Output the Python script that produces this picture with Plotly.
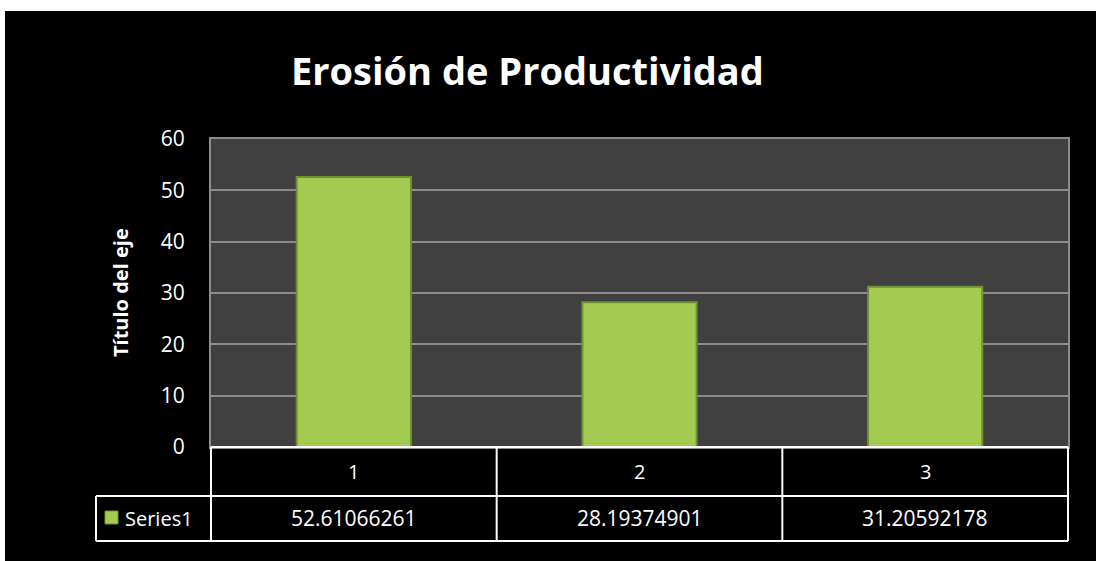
import plotly.graph_objects as go

categories = ["1", "2", "3"]
values = [52.61066261, 28.19374901, 31.20592178]
value_labels = ["52.61066261", "28.19374901", "31.20592178"]
series_name = "Series1"
title_text = "Erosión de Productividad"
y_title = "Título del eje"

FW, FH = 1096, 561
PL, PR, PT, PB = 211, 1068, 139, 447
W, H = PR - PL, PB - PT

def px(x):
    return (x - PL) / W

def py(y):
    return (PB - y) / H

FONT = "Open Sans"
GREEN = "#A3CB52"
EDGE = "#6F9130"

fig = go.Figure()
fig.add_trace(go.Bar(
    x=categories, y=values, name=series_name,
    marker=dict(color=GREEN, line=dict(color=EDGE, width=2)),
    showlegend=False,
))

shapes = []
# white outer strips (top and left)
shapes.append(dict(type="rect", xref="paper", yref="paper", x0=px(0), x1=px(FW), y0=py(0), y1=py(11),
                   fillcolor="white", line=dict(width=0), layer="below"))
shapes.append(dict(type="rect", xref="paper", yref="paper", x0=px(0), x1=px(5), y0=py(0), y1=py(FH),
                   fillcolor="white", line=dict(width=0), layer="below"))

line = dict(color="white", width=2)
shapes.append(dict(type="line", xref="paper", yref="paper", x0=px(PL), x1=px(PR), y0=py(447), y1=py(447), line=line))
shapes.append(dict(type="line", xref="paper", yref="paper", x0=px(96), x1=px(PR), y0=py(496), y1=py(496), line=line))
shapes.append(dict(type="line", xref="paper", yref="paper", x0=px(96), x1=px(PR), y0=py(541), y1=py(541), line=line))
col_x = [PL + W * i / len(categories) for i in range(len(categories) + 1)]
for cx in col_x:
    shapes.append(dict(type="line", xref="paper", yref="paper", x0=px(cx), x1=px(cx), y0=py(447), y1=py(541), line=line))
shapes.append(dict(type="line", xref="paper", yref="paper", x0=px(96), x1=px(96), y0=py(496), y1=py(541), line=line))
# legend marker
shapes.append(dict(type="rect", xref="paper", yref="paper", x0=px(105), x1=px(118), y0=py(524), y1=py(511),
                   fillcolor=GREEN, line=dict(color=EDGE, width=1)))

annotations = []
for i, c in enumerate(categories):
    cx = (col_x[i] + col_x[i + 1]) / 2
    annotations.append(dict(x=px(cx), y=py(471), xref="paper", yref="paper", text=c, showarrow=False,
                            font=dict(family=FONT, size=20, color="white"), xanchor="center", yanchor="middle"))
    annotations.append(dict(x=px(cx), y=py(518), xref="paper", yref="paper", text=value_labels[i], showarrow=False,
                            font=dict(family=FONT, size=21, color="white"), xanchor="center", yanchor="middle"))
annotations.append(dict(x=px(123), y=py(518), xref="paper", yref="paper", text=series_name, showarrow=False,
                        font=dict(family=FONT, size=20, color="white"), xanchor="left", yanchor="middle"))
annotations.append(dict(x=px(527), y=py(70), xref="paper", yref="paper", text="<b>" + title_text + "</b>", showarrow=False,
                        font=dict(family=FONT, size=38, color="white"), xanchor="center", yanchor="middle"))
annotations.append(dict(x=px(120), y=py(293), xref="paper", yref="paper", text="<b>" + y_title + "</b>", showarrow=False,
                        textangle=-90, font=dict(family=FONT, size=20, color="white"), xanchor="center", yanchor="middle"))

fig.update_layout(
    width=FW, height=FH,
    margin=dict(l=PL, r=FW - PR, t=PT, b=FH - PB, autoexpand=False),
    paper_bgcolor="black", plot_bgcolor="#404040",
    bargap=0.6,
    shapes=shapes, annotations=annotations,
    xaxis=dict(type="category", showticklabels=False, showgrid=False, zeroline=False,
               showline=True, linecolor="#8C8C8C", linewidth=2, mirror=True, ticks=""),
    yaxis=dict(range=[0, 60], dtick=10, showgrid=True, gridcolor="#8C8C8C", gridwidth=1.5,
               zeroline=False, showline=True, linecolor="#8C8C8C", linewidth=2, mirror=True,
               tickfont=dict(family=FONT, size=21, color="white"), ticks="", ticklabelstandoff=20),
)

fig.write_html("out.html", config={"displayModeBar": False},
               post_script="document.body.style.margin='0px';document.body.style.overflow='hidden';")
